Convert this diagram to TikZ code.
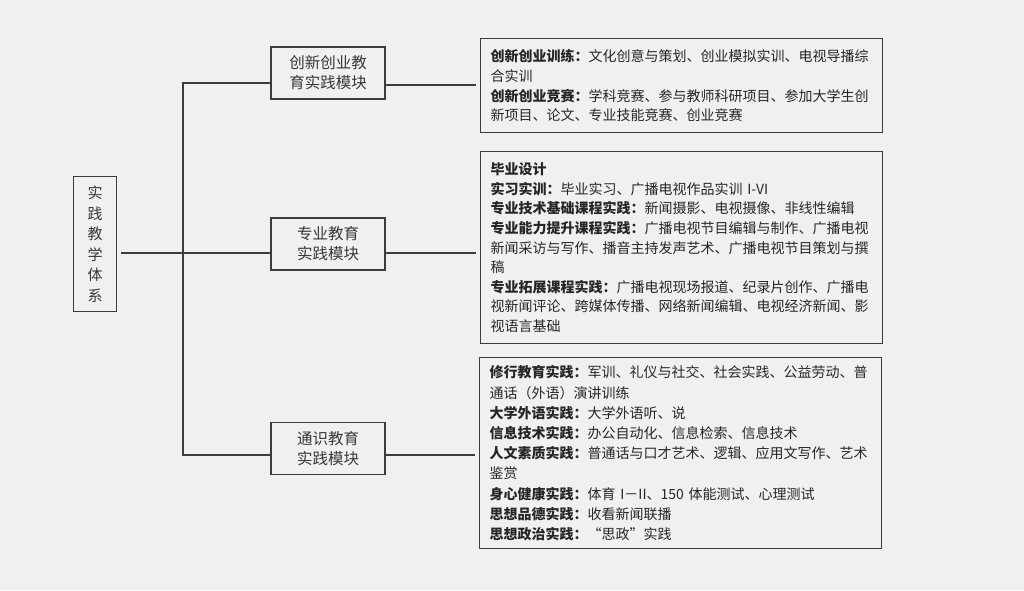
\documentclass[tikz,border=0pt]{standalone}
\usepackage{fontspec}
\setmainfont{Noto Sans CJK SC}
\usetikzlibrary{positioning}
\definecolor{bggray}{RGB}{240,240,240}
\definecolor{linegray}{RGB}{60,60,60}
\definecolor{textgray}{RGB}{55,55,55}

\begin{document}
\begin{tikzpicture}[x=1pt, y=-1pt,
  rootbox/.style={draw=linegray, line width=1.6pt, fill=bggray, minimum width=43pt, minimum height=135pt, align=center, text=textgray, font=\fontsize{15}{20.5}\selectfont},
  modbox/.style={draw=linegray, line width=1.6pt, fill=bggray, minimum width=114pt, minimum height=52pt, align=center, text=textgray, inner sep=2pt, font=\fontsize{15.5}{20}\selectfont},
  detailbox/.style={draw=linegray, line width=1.4pt, fill=bggray, anchor=north west, text width=382pt, inner xsep=10pt, align=left, text=black!85, font=\fontsize{14}{19.6}\selectfont},
  link/.style={draw=linegray, line width=1.3pt}]
  \useasboundingbox[fill=bggray] (0,0) rectangle (1024,590);

  % root
  \node[rootbox] (root) at (95,244) {实\\践\\教\\学\\体\\系};

  % modules
  \node[modbox] (mInno) at (328,73) {创新创业教\\育实践模块};
  \node[modbox] (mMajor) at (328,244) {专业教育\\实践模块};
  \node[modbox] (mGen) at (328,448.5) {通识教育\\实践模块};

  % details
  \node[detailbox, minimum height=94pt] (dInno) at (480,38) {
    \textbf{创新创业训练：}文化创意与策划、创业模拟实训、电视导播综\\
    合实训\\
    \textbf{创新创业竞赛：}学科竞赛、参与教师科研项目、参加大学生创\\
    新项目、论文、专业技能竞赛、创业竞赛};
  \node[detailbox, minimum height=192pt] (dMajor) at (480,151) {
    \textbf{毕业设计}\\
    \textbf{实习实训：}毕业实习、广播电视作品实训 I-VI\\
    \textbf{专业技术基础课程实践：}新闻摄影、电视摄像、非线性编辑\\
    \textbf{专业能力提升课程实践：}广播电视节目编辑与制作、广播电视\\
    新闻采访与写作、播音主持发声艺术、广播电视节目策划与撰\\
    稿\\
    \textbf{专业拓展课程实践：}广播电视现场报道、纪录片创作、广播电\\
    视新闻评论、跨媒体传播、网络新闻编辑、电视经济新闻、影\\
    视语言基础};
  \node[detailbox, minimum height=191pt, font=\fontsize{14}{20.2}\selectfont] (dGen) at (479,357) {
    \textbf{修行教育实践：}军训、礼仪与社交、社会实践、公益劳动、普\\
    通话（外语）演讲训练\\
    \textbf{大学外语实践：}大学外语听、说\\
    \textbf{信息技术实践：}办公自动化、信息检索、信息技术\\
    \textbf{人文素质实践：}普通话与口才艺术、逻辑、应用文写作、艺术\\
    鉴赏\\
    \textbf{身心健康实践：}体育 I－II、150 体能测试、心理测试\\
    \textbf{思想品德实践：}收看新闻联播\\
    \textbf{思想政治实践：}“思政”实践};

  % connectors
  \coordinate (trunk) at (183,253);
  \draw[link, shorten <=4pt] ([yshift=-9pt]root.east) -- ([yshift=-9pt]mMajor.west);
  \draw[link] ([yshift=-10pt]mInno.west) -| (trunk) |- ([yshift=-6.5pt]mGen.west);
  \draw[link, shorten >=4pt] ([yshift=-12pt]mInno.east) -- ([yshift=-12pt]mInno.east -| dInno.west);
  \draw[link, shorten >=4pt] ([yshift=-9pt]mMajor.east) -- ([yshift=-9pt]mMajor.east -| dMajor.west);
  \draw[link, shorten >=4pt] ([yshift=-6.5pt]mGen.east) -- ([yshift=-6.5pt]mGen.east -| dGen.west);
\end{tikzpicture}
\end{document}
